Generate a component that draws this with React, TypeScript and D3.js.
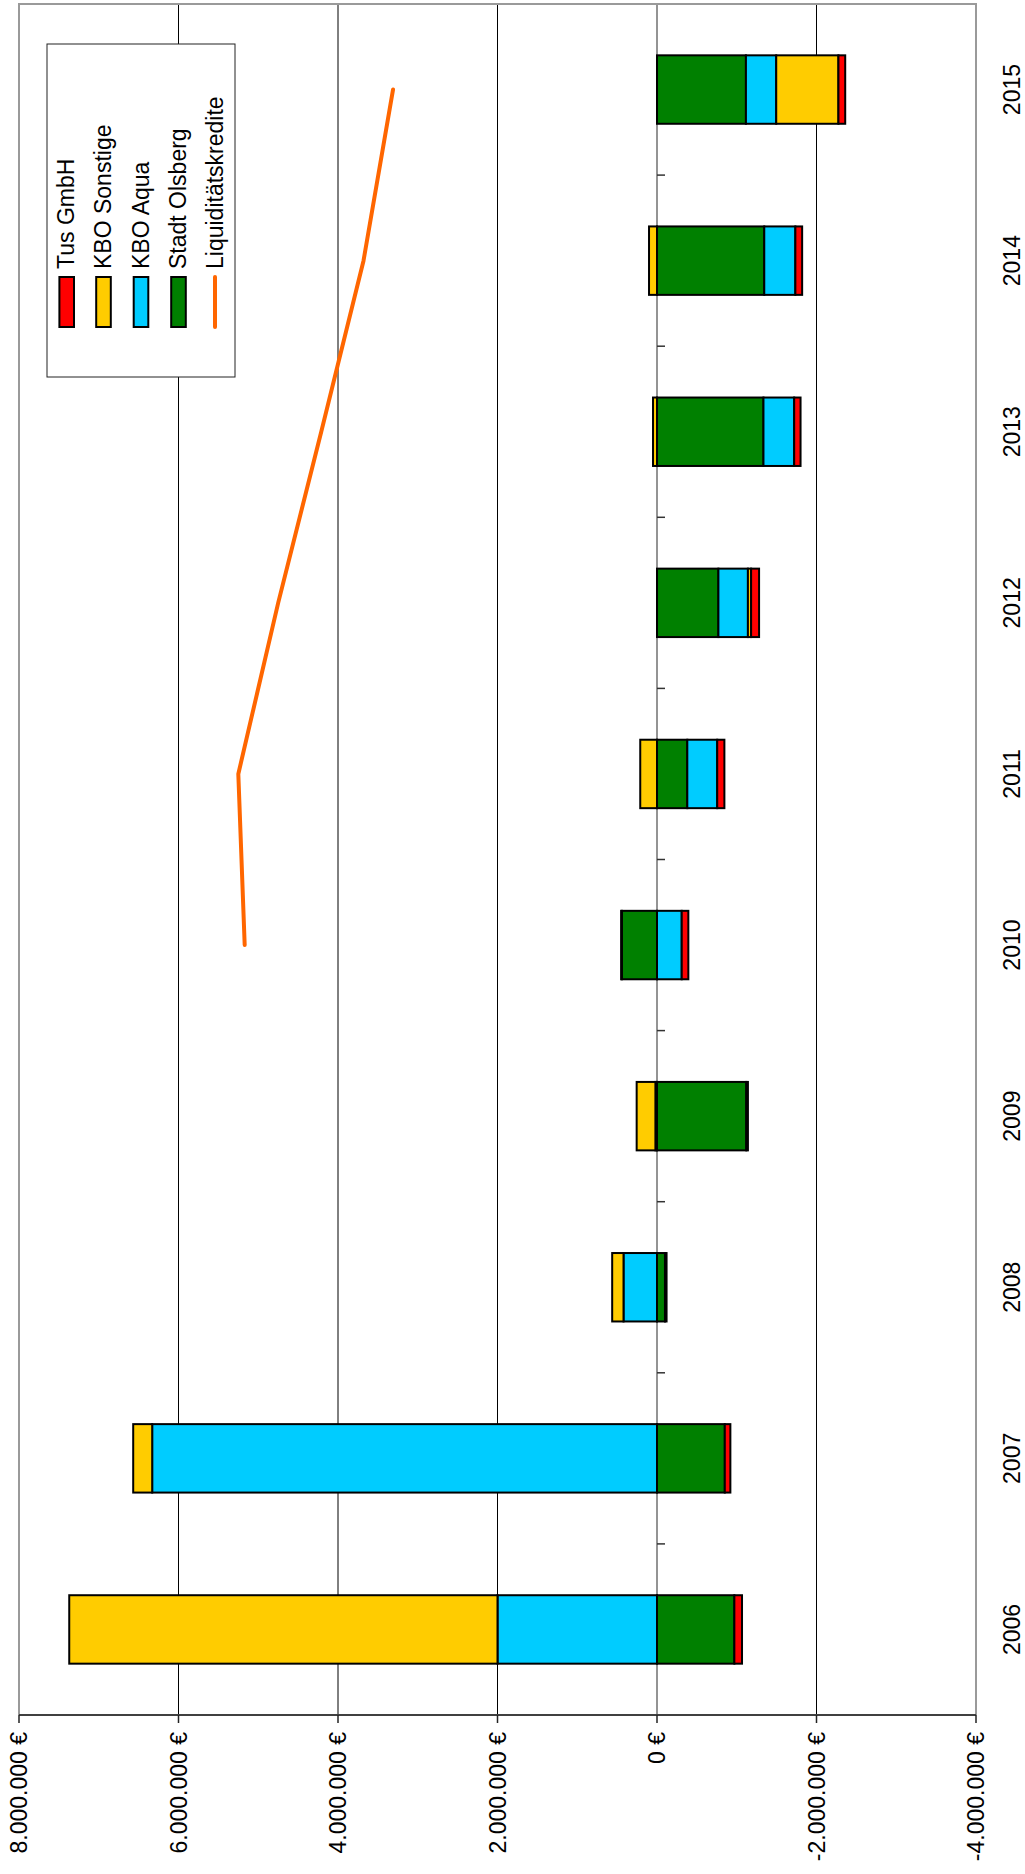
import React from 'react';
import * as d3 from 'd3';

// values in euro, one entry per year
const years = ['2006', '2007', '2008', '2009', '2010', '2011', '2012', '2013', '2014', '2015'];
const stadtOlsberg = [-970000, -850000, -100000, -1120000, 440000, -380000, -770000, -1335000, -1345000, -1115000];
const kboAqua = [2000000, 6330000, 420000, 20000, -310000, -375000, -370000, -385000, -390000, -380000];
const kboSonstige = [5370000, 238000, 142000, 235000, 10000, 210000, -40000, 50000, 100000, -780000];
const tusGmbh = [-96000, -70000, -20000, -20000, -83000, -90000, -100000, -80000, -85000, -85000];
const liquiditaet = [null, null, null, null, 5170000, 5250000, 4750000, 4210000, 3680000, 3310000];

const valueTicks = [8000000, 6000000, 4000000, 2000000, 0, -2000000, -4000000];

const seriesKeys = ['stadt', 'aqua', 'sonstige', 'tus'];
const colors: Record<string, string> = {
  stadt: '#008000',
  aqua: '#00CCFF',
  sonstige: '#FFCC00',
  tus: '#FF0000',
};
const legendItems = [
  { key: 'tus', label: 'Tus GmbH' },
  { key: 'sonstige', label: 'KBO Sonstige' },
  { key: 'aqua', label: 'KBO Aqua' },
  { key: 'stadt', label: 'Stadt Olsberg' },
  { key: 'line', label: 'Liquiditätskredite' },
];

const W = 1025;
const H = 1874;
const PLOT = { left: 19, right: 976, top: 4, bottom: 1715 };
const FONT = '"Liberation Sans", Arial, sans-serif';
const FS = 23;

const fmt = (v: number) => {
  if (v === 0) return '0 €';
  const s = d3.format(',')(Math.abs(v)).replace(/,/g, '.');
  return `${v < 0 ? '-' : ''}${s} €`;
};

export default function App() {
  const rows = years.map((year, i) => ({
    year,
    stadt: stadtOlsberg[i],
    aqua: kboAqua[i],
    sonstige: kboSonstige[i],
    tus: tusGmbh[i],
  }));

  const stacked = d3.stack<any>().keys(seriesKeys).offset(d3.stackOffsetDiverging)(rows);

  const x = d3.scaleLinear().domain([8000000, -4000000]).range([PLOT.left, PLOT.right]);
  const y = d3
    .scaleBand<string>()
    .domain([...years].reverse())
    .range([PLOT.top, PLOT.bottom])
    .paddingInner(0.6)
    .paddingOuter(0.3);

  const step = y.step();
  const bw = y.bandwidth();
  const center = (yr: string) => (y(yr) ?? 0) + bw / 2;
  const x0 = x(0);

  const boundaries = d3.range(years.length + 1).map((k) => PLOT.top + k * step);

  const linePts = years
    .map((yr, i) => ({ yr, v: liquiditaet[i] }))
    .filter((d) => d.v !== null) as { yr: string; v: number }[];
  const linePath = d3
    .line<{ yr: string; v: number }>()
    .x((d) => x(d.v))
    .y((d) => center(d.yr))(linePts);

  const legendCols = [66.7, 103.5, 141, 178.5, 215];

  return (
    <svg
      width={W}
      height={H}
      style={{ position: 'absolute', left: 0, top: 0, background: '#fff', fontFamily: FONT }}
    >
      {/* grid lines */}
      {valueTicks
        .filter((v) => v !== 0 && v !== 8000000 && v !== -4000000)
        .map((v) => (
          <line key={v} x1={x(v)} x2={x(v)} y1={PLOT.top} y2={PLOT.bottom} stroke="#000" strokeWidth={1} />
        ))}

      {/* zero axis with category ticks */}
      <line x1={x0} x2={x0} y1={PLOT.top} y2={PLOT.bottom} stroke="#707070" strokeWidth={1.5} />
      {boundaries.map((b, i) => (
        <line key={i} x1={x0} x2={x0 + 8} y1={b} y2={b} stroke="#333" strokeWidth={1.5} />
      ))}

      {/* bars */}
      {stacked.map((s) => (
        <g key={s.key} fill={colors[s.key]}>
          {s.map((d, i) => {
            const a = x(d[0]);
            const b = x(d[1]);
            return (
              <rect
                key={i}
                x={Math.min(a, b)}
                y={y(d.data.year)}
                width={Math.abs(b - a)}
                height={bw}
                stroke="#000"
                strokeWidth={2}
              />
            );
          })}
        </g>
      ))}

      {/* line */}
      <path d={linePath ?? ''} fill="none" stroke="#FF6600" strokeWidth={4} strokeLinejoin="round" strokeLinecap="round" />

      {/* plot frame */}
      <path
        d={`M${PLOT.left},${PLOT.bottom} V${PLOT.top} H${PLOT.right} V${PLOT.bottom}`}
        fill="none"
        stroke="#9a9a9a"
        strokeWidth={2}
      />
      <line x1={PLOT.left} x2={PLOT.right} y1={PLOT.bottom} y2={PLOT.bottom} stroke="#404040" strokeWidth={2} />
      {valueTicks.map((v) => (
        <line key={v} x1={x(v)} x2={x(v)} y1={PLOT.bottom} y2={PLOT.bottom + 8} stroke="#222" strokeWidth={1.5} />
      ))}

      {/* value labels */}
      {valueTicks.map((v) => (
        <text
          key={v}
          transform={`translate(${x(v) + 8},${PLOT.bottom + 17}) rotate(-90)`}
          textAnchor="end"
          fontSize={FS}
          fill="#000"
        >
          {fmt(v)}
        </text>
      ))}

      {/* year labels */}
      {years.map((yr) => (
        <text
          key={yr}
          transform={`translate(1019.5,${center(yr)}) rotate(-90)`}
          textAnchor="middle"
          fontSize={FS}
          fill="#000"
        >
          {yr}
        </text>
      ))}

      {/* legend */}
      <rect x={47} y={44} width={188} height={333} fill="#fff" stroke="#222" strokeWidth={1} />
      {legendItems.map((it, i) => {
        const cx = legendCols[i];
        return (
          <g key={it.key}>
            {it.key === 'line' ? (
              <line x1={cx} x2={cx} y1={277} y2={327} stroke="#FF6600" strokeWidth={4} strokeLinecap="round" />
            ) : (
              <rect x={cx - 7.3} y={277} width={14.6} height={50} fill={colors[it.key]} stroke="#000" strokeWidth={2} />
            )}
            <text transform={`translate(${cx + 7.5},269) rotate(-90)`} fontSize={FS} fill="#000">
              {it.label}
            </text>
          </g>
        );
      })}
    </svg>
  );
}
